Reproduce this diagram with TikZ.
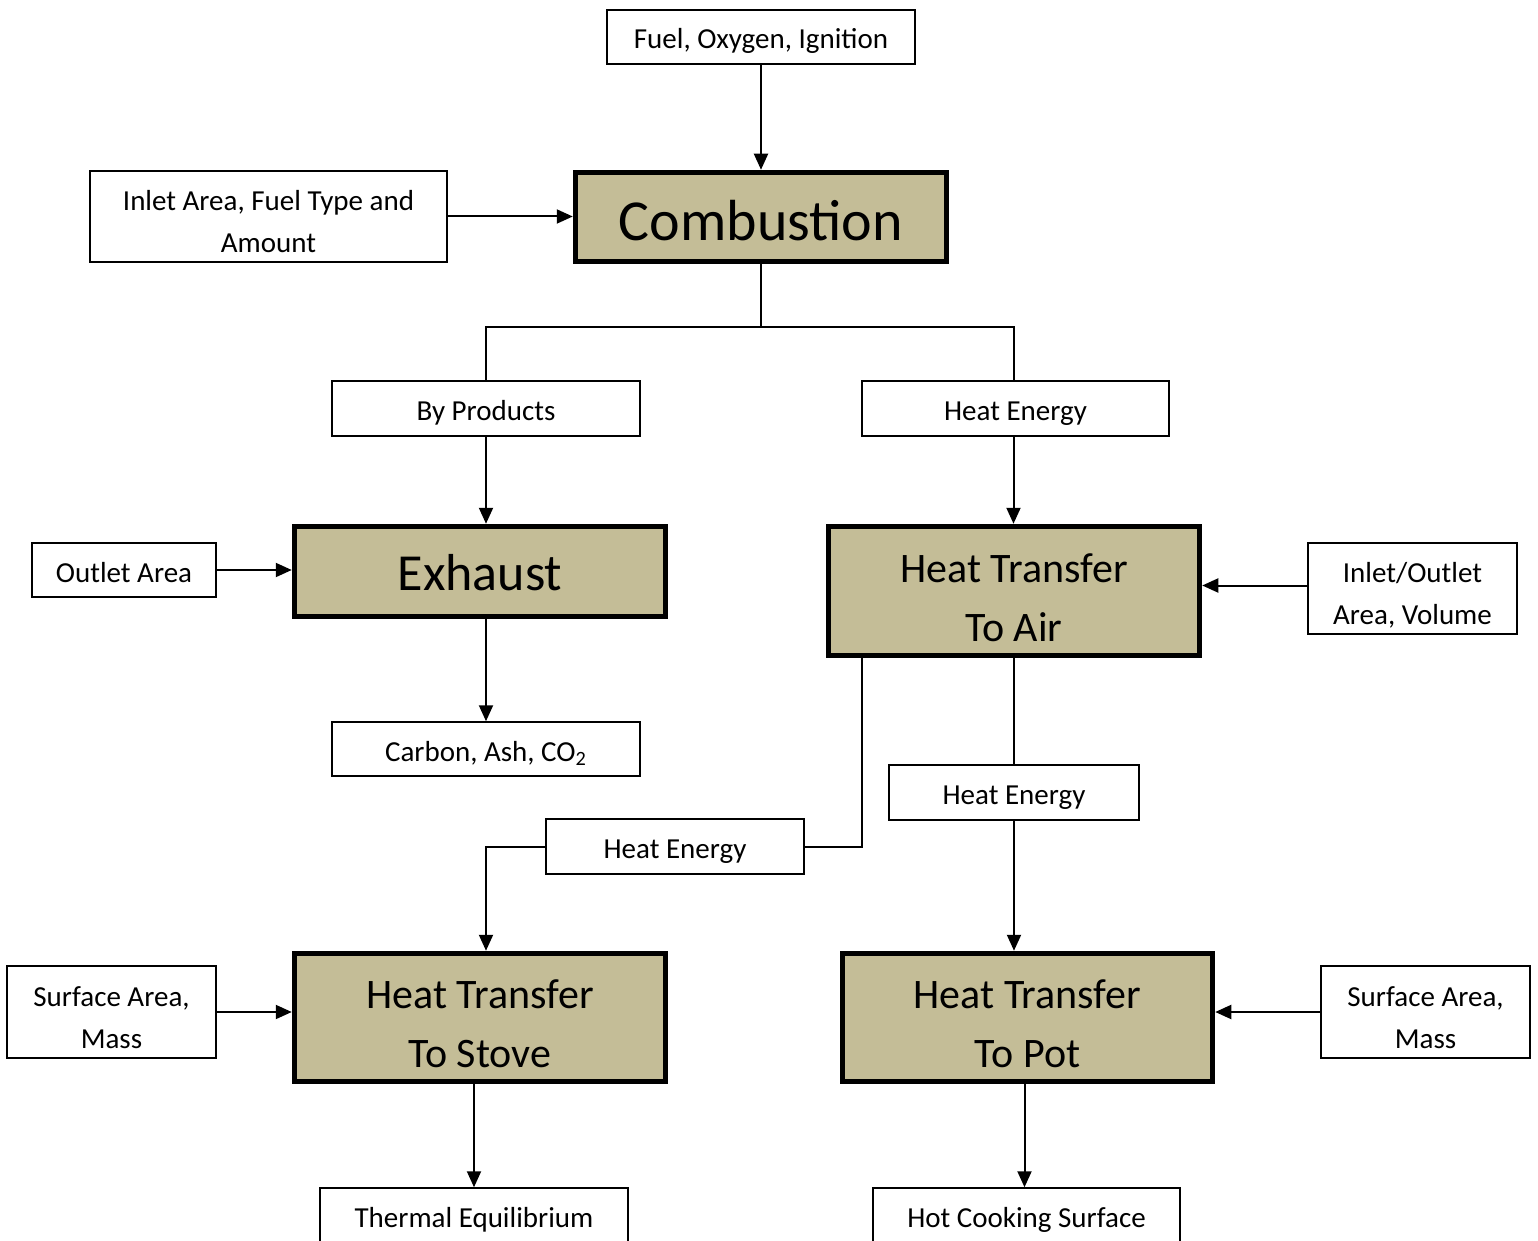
\documentclass[tikz,border=0pt]{standalone}
\usepackage{fontspec}
\setmainfont{Carlito}
\usepackage{tikz}
\usetikzlibrary{arrows.meta}
\definecolor{stagefill}{HTML}{C4BD97}

\begin{document}
\begin{tikzpicture}[x=0.5pt, y=-0.5pt, line join=miter]
      \tikzstyle{arrow} = [line width=1pt, -{Triangle[length=8pt, width=7pt]}]
      \tikzstyle{link} = [line width=1pt]
      \tikzstyle{label} = [rectangle, draw=black, line width=0.75pt, fill=white, inner sep=0pt, align=center, font=\fontsize{14.5}{21}\selectfont, text height=13pt, text depth=1pt]
      \tikzstyle{labelpair} = [label, text height=37pt, text depth=1pt]
      \tikzstyle{stage} = [rectangle, draw=black, line width=2.75pt, fill=stagefill, inner sep=0pt, align=center, minimum width=185.5pt]
      \tikzstyle{stagepair} = [stage, font=\fontsize{21}{29.5}\selectfont, text height=51pt, text depth=1pt]

      \useasboundingbox (0,0) rectangle (1538,1241);
      \clip (0,0) rectangle (1538,1241);

      % top row
      \node[label, minimum width=154pt, minimum height=27pt] (fuel) at (761,37) {Fuel, Oxygen, Ignition};
      \node[stage, minimum height=44.5pt, font=\fontsize{29}{34}\selectfont, text height=25pt, text depth=1pt] (combustion) at (761,217) {Combustion};
      \node[labelpair, minimum width=178.5pt, minimum height=45.5pt] (inlet) at (268.5,216.5) {Inlet Area, Fuel Type and\\Amount};
      \coordinate (split) at (761,327);

      % second row
      \node[label, minimum width=154pt, minimum height=27.5pt] (byprod) at (486,408.5) {By Products};
      \node[label, minimum width=153.5pt, minimum height=27.5pt] (heat-1) at (1015.5,408.5) {Heat Energy};
      \node[stage, minimum height=45pt, font=\fontsize{26}{30}\selectfont, text height=20pt, text depth=1pt] (exhaust) at (480,571.5) {Exhaust};
      \node[label, minimum width=92pt, minimum height=27pt] (outlet) at (124,570) {Outlet Area};
      \node[stagepair, minimum height=64.5pt] (air) at (1014,591) {Heat Transfer\\To Air};
      \node[labelpair, minimum width=104.5pt, minimum height=45.5pt] (inout) at (1412.5,588.5) {Inlet/Outlet\\Area, Volume};
      \node[label, minimum width=154pt, minimum height=27pt] (carbon) at (486,749) {Carbon, Ash, CO\textsubscript{2}};

      % third row
      \node[label, minimum width=125pt, minimum height=27.5pt] (heat-2) at (1014,792.5) {Heat Energy};
      \node[label, minimum width=129pt, minimum height=27.5pt] (heat-3) at (675,846.5) {Heat Energy};
      \node[stagepair, minimum height=64pt] (stove) at (480,1017.5) {Heat Transfer\\To Stove};
      \node[stagepair, minimum width=185pt, minimum height=64pt] (pot) at (1027.5,1017.5) {Heat Transfer\\To Pot};
      \node[labelpair, minimum width=104.5pt, minimum height=46pt] (surf-1) at (111.5,1012) {Surface Area,\\Mass};
      \node[labelpair, minimum width=104.5pt, minimum height=46pt] (surf-2) at (1425.5,1012) {Surface Area,\\Mass};
      \node[label, minimum width=154pt, minimum height=27pt] (thermal) at (474,1215) {Thermal Equilibrium};
      \node[label, minimum width=153.5pt, minimum height=27pt] (hot) at (1026.5,1215) {Hot Cooking Surface};

      \draw [arrow] (fuel) -- (combustion);
      \draw [arrow] (inlet.east) -- (inlet.east -| combustion.west);
      \draw [link] (combustion.south) -- (split) -| (byprod.north);
      \draw [link] (split) -| ([xshift=-1pt]heat-1.north);
      \draw [arrow] (byprod.south) -- (byprod.south |- exhaust.north);
      \draw [arrow] ([xshift=-1pt]heat-1.south) -- ([xshift=-1pt]heat-1.south |- air.north);
      \draw [arrow] (outlet.east) -- (outlet.east -| exhaust.west);
      \draw [arrow] ([yshift=1.5pt]inout.west) -- ([yshift=1.5pt]inout.west -| air.east);
      \draw [arrow] (carbon.north |- exhaust.south) -- (carbon.north);
      \draw [link] ([xshift=18pt]air.south west) |- (heat-3.east);
      \draw [arrow] (heat-3.west) -| ([xshift=3pt]stove.north);
      \draw [link] (air.south) -- (heat-2.north);
      \draw [arrow] (heat-2.south) -- (heat-2.south |- pot.north);
      \draw [arrow] (surf-1.east) -- (surf-1.east -| stove.west);
      \draw [arrow] (surf-2.west) -- (surf-2.west -| pot.east);
      \draw [arrow] (thermal.north |- stove.south) -- (thermal.north);
      \draw [arrow] ([xshift=-1pt]hot.north |- pot.south) -- ([xshift=-1pt]hot.north);
\end{tikzpicture}
\end{document}
